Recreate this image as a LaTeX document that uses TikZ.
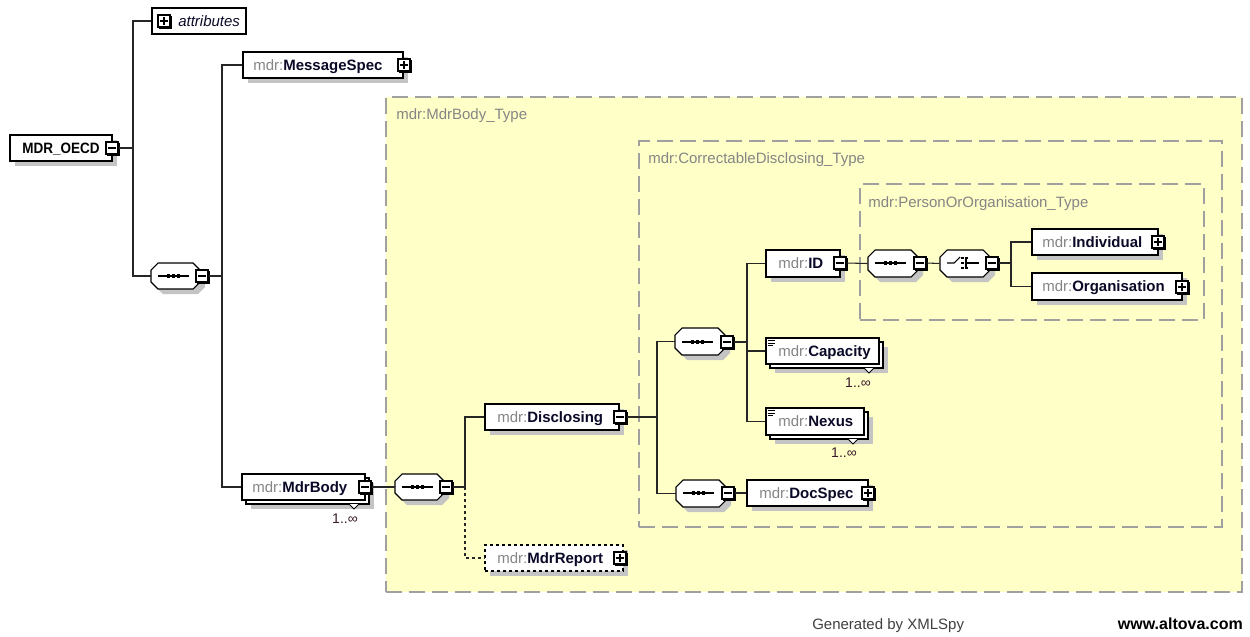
\documentclass[tikz,border=0pt]{standalone}
\usepackage{fontspec}
\setmainfont{Liberation Sans}
\usetikzlibrary{calc}
\definecolor{yel}{HTML}{FFFFC8}
\definecolor{cbord}{HTML}{A0A0A0}
\definecolor{shd}{HTML}{C4C4C4}
\definecolor{pfx}{HTML}{858585}
\definecolor{nmc}{HTML}{0A0A28}
\definecolor{mult}{HTML}{3A1A2A}
\definecolor{gen}{HTML}{404040}

\tikzset{
  boxst/.style={draw=black, fill=white, line width=0.8pt, inner sep=0pt},
  txt/.style={inner sep=0pt, font=\fontsize{11.25}{13}\selectfont, text=nmc, anchor=base west},
  ctxt/.style={inner sep=0pt, font=\fontsize{11.25}{13}\selectfont, text=pfx, anchor=base west},
  multxt/.style={inner sep=0pt, font=\fontsize{10.5}{12}\selectfont, text=mult, anchor=base},
  contbox/.style={draw=cbord, fill=yel, line width=0.8pt, dash pattern=on 12pt off 5.25pt, inner sep=0pt},
  conn/.style={line width=0.8pt, draw=black!85},
  dconn/.style={conn, dash pattern=on 2.5pt off 2pt},
  glyph/.style={line width=0.8pt, draw=black},
}

\newcommand{\QN}[1]{\textcolor{pfx}{mdr:}\textbf{#1}}

% #1 optional style, #2 name, #3 x1, #4 y1, #5 x2, #6 y2, #7 text x, #8 content
\newcommand{\ElemBox}[8][]{%
  \fill[shd] ({#3+5},{#4+5}) rectangle ({#5+5},{#6+5});
  \node[boxst,#1, minimum width={(#5-#3)*0.75pt}, minimum height={(#6-#4)*0.75pt}] (#2) at ({(#3+#5)/2},{(#4+#6)/2}) {};
  \node[txt] (#2-t) at (#7,{(#4+#6)/2+5}) {#8};
}
% stacked (multiple) element box
\newcommand{\StackBox}[7]{%
  \fill[shd] ({#2+9},{#3+9}) rectangle ({#4+9},{#5+9});
  \draw[boxst] ({#2+4},{#3+4}) rectangle ({#4+4},{#5+4});
  \node[boxst, minimum width={(#4-#2)*0.75pt}, minimum height={(#5-#3)*0.75pt}] (#1) at ({(#2+#4)/2},{(#3+#5)/2}) {};
  \node[txt] (#1-t) at (#6,{(#3+#5)/2+5}) {#7};
}
% plus / minus icon: name, cx, cy, 1=plus 0=minus
\newcommand{\IconBox}[4]{%
  \fill[black] ({#2-5},{#3-5}) rectangle ({#2+7.6},{#3+7.6});
  \node[boxst, minimum width=9pt, minimum height=9pt] (#1) at (#2,#3) {};
  \draw[line width=0.8pt] ({#2-3.6},#3) -- ({#2+3.6},#3);
  \ifnum#4=1 \draw[line width=0.8pt] (#2,{#3-3.6}) -- (#2,{#3+3.6});\fi
}
% octagon compositor: name, x1, y1, x2, y2
\newcommand{\OctShape}[5]{%
  \fill[shd] ({#2+5},{#3+12}) -- ({#2+12},{#3+5}) -- ({#4-2},{#3+5}) -- ({#4+5},{#3+12}) -- ({#4+5},{#5-2}) -- ({#4-2},{#5+5}) -- ({#2+12},{#5+5}) -- ({#2+5},{#5-2}) -- cycle;
  \draw[boxst] (#2,{#3+7}) -- ({#2+7},#3) -- ({#4-7},#3) -- (#4,{#3+7}) -- (#4,{#5-7}) -- ({#4-7},#5) -- ({#2+7},#5) -- (#2,{#5-7}) -- cycle;
  \node[inner sep=0pt, minimum width={(#4-#2)*0.75pt}, minimum height={(#5-#3)*0.75pt}] (#1) at ({(#2+#4)/2},{(#3+#5)/2}) {};
}
% sequence glyph: x1, visible x2, y
\newcommand{\SeqGlyph}[3]{%
  \draw[glyph] ({#1+7},#3) -- ({#2-7},#3);
  \foreach \dd in {-5,0,5} \fill ({(#1+#2)/2+\dd-1.6},{#3-1.6}) rectangle ++(3.2,3.2);
}
\newcommand{\DocIcon}[2]{%
  \draw[line width=0.6pt] (#1,#2) -- ({#1+7},#2);
  \draw[line width=0.6pt] (#1,{#2+2.5}) -- ({#1+7},{#2+2.5});
  \draw[line width=0.6pt] (#1,{#2+5}) -- ({#1+5},{#2+5});
}
\newcommand{\MultMark}[2]{%
  \draw[line width=0.6pt, fill=white] ({#1-5},#2) -- (#1,{#2+5}) -- ({#1+5},#2);
}

\begin{document}
\begin{tikzpicture}[x=0.75pt,y=-0.75pt]
\path[use as bounding box, fill=white] (0,0) rectangle (1250,636);

% ---------- containers ----------
\node[contbox, minimum width={(1242-386)*0.75pt}, minimum height={(592-97)*0.75pt}] (mbt) at ({(386+1242)/2},{(97+592)/2}) {};
\node[ctxt] (mbt-l) at (396,119) {mdr:MdrBody\_Type};
\node[contbox, minimum width={(1222-639)*0.75pt}, minimum height={(527-141)*0.75pt}] (cdt) at ({(639+1222)/2},{(141+527)/2}) {};
\node[ctxt] (cdt-l) at (648,163) {mdr:CorrectableDisclosing\_Type};
\node[contbox, minimum width={(1204-860)*0.75pt}, minimum height={(320-184)*0.75pt}] (pot) at ({(860+1204)/2},{(184+320)/2}) {};
\node[ctxt] (pot-l) at (868,207) {mdr:PersonOrOrganisation\_Type};

% ---------- root ----------
\ElemBox{oecd}{10}{135}{112}{161}{22}{\textcolor{black}{\scalebox{0.9}[1]{\textbf{MDR\_OECD}}}}
\IconBox{oecd-i}{112}{148}{0}

% attributes
\node[boxst, minimum width={(246-152)*0.75pt}, minimum height={(34-8)*0.75pt}] (attr) at ({(152+246)/2},21) {};
\IconBox{attr-i}{164}{21}{1}
\node[txt] (attr-t) at (178,26) {\textit{attributes}};

% sequence 1
\OctShape{s1}{151}{263}{200}{289}
\SeqGlyph{151}{196}{276}
\IconBox{s1-i}{202}{276}{0}

% MessageSpec
\ElemBox{msg}{243}{52}{403}{78}{253}{\QN{MessageSpec}}
\IconBox{msg-i}{404}{65}{1}

% MdrBody
\StackBox{body}{242}{474}{365}{500}{252}{\QN{MdrBody}}
\IconBox{body-i}{365}{487}{0}
\MultMark{354}{504}
\node[multxt] (body-m) at (345,523) {1..∞};

% sequence 2
\OctShape{s2}{395}{474}{444}{500}
\SeqGlyph{395}{440}{487}
\IconBox{s2-i}{446}{487}{0}

% Disclosing
\ElemBox{disc}{485}{404}{619}{430}{497}{\QN{Disclosing}}
\IconBox{disc-i}{620}{417}{0}

% MdrReport (optional)
\ElemBox[dash pattern=on 2.5pt off 2pt]{rep}{485}{545}{623}{571}{497}{\QN{MdrReport}}
\IconBox{rep-i}{620}{558}{1}

% sequence 3
\OctShape{s3}{675}{328}{725}{355}
\SeqGlyph{675}{720}{342}
\IconBox{s3-i}{727}{342}{0}

% sequence 5
\OctShape{s5}{676}{480}{726}{507}
\SeqGlyph{676}{721}{493}
\IconBox{s5-i}{728}{493}{0}

% ID
\ElemBox{id}{766}{250}{840}{277}{778}{\QN{ID}}
\IconBox{id-i}{840}{263}{0}

% Capacity
\StackBox{cap}{766}{338}{879}{364}{778}{\QN{Capacity}}
\DocIcon{768}{340.5}
\MultMark{869}{368}
\node[multxt] (cap-m) at (858,387) {1..∞};

% Nexus
\StackBox{nex}{766}{408}{864}{435}{778}{\QN{Nexus}}
\DocIcon{768}{410.5}
\MultMark{853}{439}
\node[multxt] (nex-m) at (844,457) {1..∞};

% DocSpec
\ElemBox{doc}{747}{480}{868}{506}{759}{\QN{DocSpec}}
\IconBox{doc-i}{868}{493}{1}

% sequence 4
\OctShape{s4}{868}{250}{918}{277}
\SeqGlyph{868}{913}{263}
\IconBox{s4-i}{920}{263}{0}

% choice
\OctShape{c1}{940}{250}{990}{277}
\draw[glyph] (947,263) -- (954,263) -- (960,257);
\foreach \yy in {258,263,268} \fill (961.2,{\yy-1.2}) rectangle ++(2.4,2.4);
\draw[glyph] (968,258) -- (966,258) -- (966,268) -- (968,268);
\draw[glyph] (966,263) -- (979,263);
\IconBox{c1-i}{992}{263}{0}

% Individual / Organisation
\ElemBox{ind}{1032}{229}{1158}{255}{1042}{\QN{Individual}}
\IconBox{ind-i}{1158}{242}{1}
\ElemBox{org}{1032}{273}{1182}{300}{1042}{\QN{Organisation}}
\IconBox{org-i}{1182}{287}{1}

% ---------- connectors ----------
\coordinate (v1) at (133,0);
\coordinate (v2) at (222,0);
\coordinate (v3) at (465,0);
\coordinate (v4) at (657,0);
\coordinate (v5) at (747,0);
\coordinate (v6) at (1011,0);

\draw[conn] (oecd-i.east) -- (oecd-i.east -| v1);
\draw[conn] (attr.west) -- (attr.west -| v1) |- (s1.west);
\draw[conn] (s1-i.east) -- (s1-i.east -| v2);
\draw[conn] (msg.west) -- (msg.west -| v2) |- (body.west);
\draw[conn] (body-i.east) -- (s2.west);
\draw[conn] (s2-i.east) -- (s2-i.east -| v3);
\draw[conn] (disc.west) -- (disc.west -| v3) -- (s2-i.east -| v3);
\draw[dconn] (s2-i.east -| v3) |- (rep.west);
\draw[conn] (disc-i.east) -- (disc-i.east -| v4);
\draw[conn] (s3.west) -- (s3.west -| v4) |- (s5.west);
\draw[conn] (s3-i.east) -- (s3-i.east -| v5);
\draw[conn] (id.west) -- (id.west -| v5) |- (nex.west);
\draw[conn] (cap.west -| v5) -- (cap.west);
\draw[conn] (s5-i.east) -- (doc.west);
\draw[conn] (id-i.east) -- (s4.west);
\draw[conn] (s4-i.east) -- (c1.west);
\draw[conn] (c1-i.east) -- (c1-i.east -| v6);
\draw[conn] (ind.west) -- (ind.west -| v6) |- (org.west);

% ---------- footer ----------
\node[txt, text=gen] (genby) at (812,629) {Generated by XMLSpy};
\node[txt, anchor=base east, text=black, font=\fontsize{12}{14}\selectfont] (altova) at (1243,629) {\textbf{www.altova.com}};
\end{tikzpicture}
\end{document}
